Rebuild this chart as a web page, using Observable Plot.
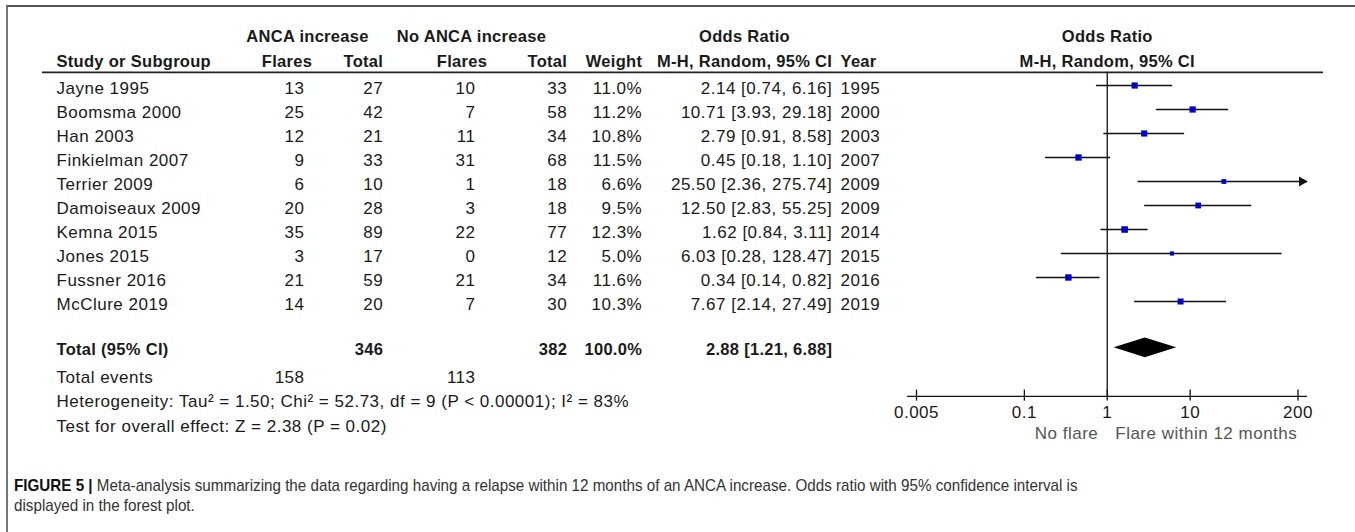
<!DOCTYPE html>
<html><head><meta charset="utf-8">
<script src="https://cdn.jsdelivr.net/npm/d3@7"></script>
<script src="https://cdn.jsdelivr.net/npm/@observablehq/plot@0.6"></script>
<style>
html,body{margin:0;padding:0;background:#fff;width:1355px;height:532px;overflow:hidden}
#frame{position:absolute;left:6px;top:5px;width:1349px;height:527px;border-top:2px solid #555;border-left:2px solid #777;box-sizing:border-box;z-index:5;pointer-events:none}
#chart{position:absolute;left:0;top:0;width:1355px;height:450px}
#chart svg{position:absolute;left:0;top:0}
#caption{position:absolute;left:14px;top:476px;font-family:"Liberation Sans",Arial,sans-serif;font-size:17px;line-height:20px;color:#333;white-space:nowrap;transform:scaleX(0.894);transform-origin:0 0}
#caption b{color:#111}
</style></head>
<body>
<div id="chart"></div>
<div id="caption"><b>FIGURE 5 |</b> Meta-analysis summarizing the data regarding having a relapse within 12 months of an ANCA increase. Odds ratio with 95% confidence interval is<br>displayed in the forest plot.</div>
<div id="frame"></div>
<script>
// ---- data ----
const studies = ["Jayne 1995","Boomsma 2000","Han 2003","Finkielman 2007","Terrier 2009","Damoiseaux 2009","Kemna 2015","Jones 2015","Fussner 2016","McClure 2019"];
const ancaFlares = [13,25,12,9,6,20,35,3,21,14];
const ancaTotal = [27,42,21,33,10,28,89,17,59,20];
const noFlares = [10,7,11,31,1,3,22,0,21,7];
const noTotal = [33,58,34,68,18,18,77,12,34,30];
const weights = [11.0,11.2,10.8,11.5,6.6,9.5,12.3,5.0,11.6,10.3];
const oddsRatio = [2.14,10.71,2.79,0.45,25.50,12.50,1.62,6.03,0.34,7.67];
const ciLow = [0.74,3.93,0.91,0.18,2.36,2.83,0.84,0.28,0.14,2.14];
const ciHigh = [6.16,29.18,8.58,1.10,275.74,55.25,3.11,128.47,0.82,27.49];
const years = ["1995","2000","2003","2007","2009","2009","2014","2015","2016","2019"];
const pooled = {or:2.88, lo:1.21, hi:6.88, total1:346, total2:382, weight:100.0, events1:158, events2:113};
const heterogeneity = "Heterogeneity: Tau\u00b2 = 1.50; Chi\u00b2 = 52.73, df = 9 (P < 0.00001); I\u00b2 = 83%";
const overall = "Test for overall effect: Z = 2.38 (P = 0.02)";
const tickValues = [0.005,0.1,1,10,200];
const tickLabels = ["0.005","0.1","1","10","200"];
const axisMin = 0.0039, axisMax = 260;

// ---- layout ----
const f2 = v => v.toFixed(2);
const rows = studies.map((s,i)=>({i, study:s, f1:String(ancaFlares[i]), t1:String(ancaTotal[i]), f2:String(noFlares[i]), t2:String(noTotal[i]),
  w:weights[i], wl: weights[i].toFixed(1)+"%", or:oddsRatio[i], lo:ciLow[i], hi:ciHigh[i],
  orl:`${f2(oddsRatio[i])} [${f2(ciLow[i])}, ${f2(ciHigh[i])}]`, year:years[i]}));

const vGroup = -2.167, vHead = -1.125, vLine = -0.55, vTotal = 10.89, vDiamond = 10.93, vEvents = 12.03, vHet = 13.03, vTest = 14.07;
const vAxis = 12.95, vTickLab = 13.61, vDir = 14.51;

const ink = "#1a1a1a";
const fontFamily = "'Liberation Sans', Arial, sans-serif";
const yScale = {type:"linear", domain:[0,9], range:[85,301], axis:null};
const base = {width:1355, height:450, margin:0, y:yScale,
  style:{background:"transparent", overflow:"visible", fontFamily, fontSize:"16.5px", color: ink}};

const cols = [
  {key:"study", x:56, anchor:"start"},
  {key:"f1", x:304, anchor:"end"},
  {key:"t1", x:382.7, anchor:"end"},
  {key:"f2", x:475, anchor:"end"},
  {key:"t2", x:566.7, anchor:"end"},
  {key:"wl", x:641.7, anchor:"end"},
  {key:"orl", x:831.7, anchor:"end"},
  {key:"year", x:840, anchor:"start"}
];
const headers = [
  {t:"ANCA increase", x:307, a:"middle", v:vGroup},
  {t:"No ANCA increase", x:471, a:"middle", v:vGroup},
  {t:"Odds Ratio", x:744, a:"middle", v:vGroup},
  {t:"Study or Subgroup", x:56, a:"start", v:vHead},
  {t:"Flares", x:311.7, a:"end", v:vHead},
  {t:"Total", x:382.7, a:"end", v:vHead},
  {t:"Flares", x:486.7, a:"end", v:vHead},
  {t:"Total", x:566.7, a:"end", v:vHead},
  {t:"Weight", x:641.7, a:"end", v:vHead},
  {t:"M-H, Random, 95% CI", x:831.7, a:"end", v:vHead},
  {t:"Year", x:840, a:"start", v:vHead}
];
const totalsBold = [
  {t:"Total (95% CI)", x:56, a:"start"},
  {t:String(pooled.total1), x:382.7, a:"end"},
  {t:String(pooled.total2), x:566.7, a:"end"},
  {t:pooled.weight.toFixed(1)+"%", x:641.7, a:"end"},
  {t:`${f2(pooled.or)} [${f2(pooled.lo)}, ${f2(pooled.hi)}]`, x:831.7, a:"end"}
];
const footer = [
  {t:"Total events", x:56, a:"start", v:vEvents},
  {t:String(pooled.events1), x:304, a:"end", v:vEvents},
  {t:String(pooled.events2), x:475, a:"end", v:vEvents},
  {t:heterogeneity, x:56, a:"start", v:vHet},
  {t:overall, x:56, a:"start", v:vTest}
];

const tableMarks = [];
for (const c of cols) {
  tableMarks.push(Plot.text(rows, {x:()=>c.x, y:"i", text:c.key, textAnchor:c.anchor, dy:3, fill:ink, fontSize:17, className:"reg"}));
}
for (const a of ["start","middle","end"]) {
  tableMarks.push(Plot.text(headers.filter(h=>h.a===a), {x:"x", y:"v", text:"t", textAnchor:a, dy:3, fontWeight:"bold", fill:ink, className:"bld"}));
  tableMarks.push(Plot.text(totalsBold.filter(h=>h.a===a), {x:"x", y:()=>vTotal, text:"t", textAnchor:a, dy:3, fontWeight:"bold", fill:ink, className:"bld"}));
  tableMarks.push(Plot.text(footer.filter(h=>h.a===a), {x:"x", y:"v", text:"t", textAnchor:a, dy:3, fill:ink, fontSize:17, className:"reg"}));
}
tableMarks.push(Plot.ruleY([vLine], {x1:42, x2:1323, stroke:"#222", strokeWidth:1.8}));

const table = Plot.plot({...base, x:{type:"identity", axis:null}, marks: tableMarks});

const diamond = [
  {x:pooled.lo, y1:vDiamond, y2:vDiamond},
  {x:pooled.or, y1:vDiamond-0.41, y2:vDiamond+0.41},
  {x:pooled.hi, y1:vDiamond, y2:vDiamond}
];
const arrows = rows.filter(d=>d.hi>axisMax);

const forest = Plot.plot({...base,
  x:{type:"log", domain:[0.005,200], range:[916,1297.5], axis:null},
  r:{type:"sqrt", domain:[0,12.3], range:[0,3.7]},
  marks:[
    Plot.ruleX([1], {y1:vLine, y2:vAxis, stroke:"#111", strokeWidth:1.3}),
    Plot.ruleY(rows, {y:"i", x1:"lo", x2:d=>Math.min(d.hi, axisMax), stroke:"#111", strokeWidth:1.3}),
    Plot.dot(arrows, {x:()=>axisMax, y:"i", symbol:"triangle", rotate:90, r:3.7, dx:-5.5, fill:"#111", stroke:"none"}),
    Plot.dot(rows, {x:"or", y:"i", r:"w", symbol:"square", fill:"#0000cc", stroke:"none"}),
    Plot.areaY(diamond, {x:"x", y1:"y1", y2:"y2", fill:"#000"}),
    Plot.ruleY([vAxis], {x1:axisMin, x2:axisMax, stroke:"#111", strokeWidth:1.3}),
    Plot.ruleX(tickValues, {y1:vAxis-0.26, y2:vAxis+0.2, stroke:"#111", strokeWidth:1.3}),
    Plot.text(tickValues, {x:d=>d, y:()=>vTickLab, text:(d,i)=>tickLabels[i], fill:ink, fontSize:17, className:"reg"}),
    Plot.text(["No flare"], {x:()=>1, y:()=>vDir, text:d=>d, textAnchor:"end", dx:-9, fill:"#555", fontSize:17, className:"reg"}),
    Plot.text(["Flare within 12 months"], {x:()=>1, y:()=>vDir, text:d=>d, textAnchor:"start", dx:8, fill:"#555", fontSize:17, className:"reg"}),
    Plot.text(["Odds Ratio"], {x:()=>1, y:()=>vGroup, text:d=>d, dy:3, fontWeight:"bold", fill:ink, className:"bld"}),
    Plot.text(["M-H, Random, 95% CI"], {x:()=>1, y:()=>vHead, text:d=>d, dy:3, fontWeight:"bold", fill:ink, className:"bld"})
  ]});

const css = document.createElement("style");
css.textContent = ".reg text{letter-spacing:0.5px} .bld text{letter-spacing:0.3px}";
document.head.append(css);
document.getElementById("chart").append(table, forest);
</script>
</body></html>
